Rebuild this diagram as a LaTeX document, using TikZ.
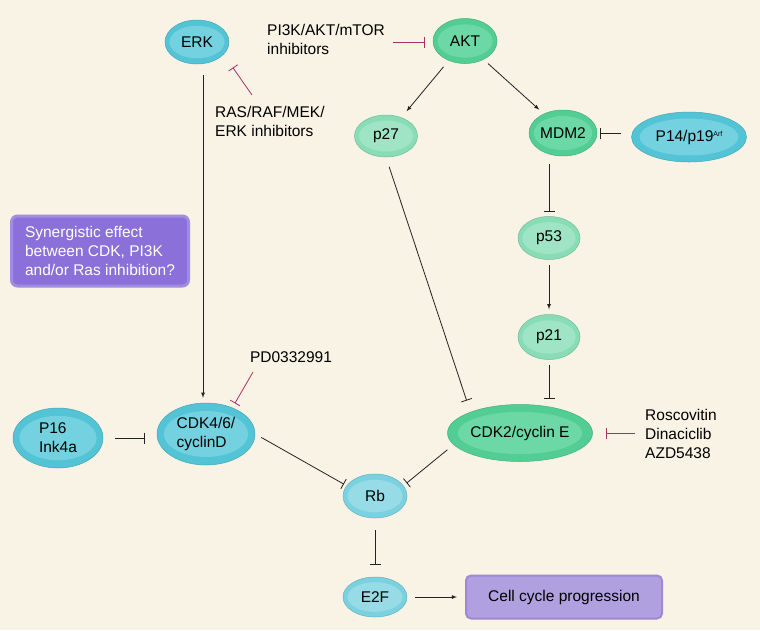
\documentclass[tikz,border=0pt]{standalone}
\usepackage{fontspec}
\setmainfont{Liberation Sans}
\usetikzlibrary{shapes.geometric,arrows.meta,calc}

\definecolor{bgcream}{HTML}{F8F3E4}
\definecolor{cyandark}{HTML}{52C4D5}
\definecolor{cyandarkin}{HTML}{74D1DF}
\definecolor{cyanlight}{HTML}{7AD1DF}
\definecolor{cyanlightin}{HTML}{96DBE6}
\definecolor{greendark}{HTML}{52CD93}
\definecolor{greendarkin}{HTML}{6CD8A5}
\definecolor{greenlight}{HTML}{88DCB6}
\definecolor{greenlightin}{HTML}{9FE4C5}
\definecolor{synpurple}{HTML}{8A70D8}
\definecolor{synedge}{HTML}{A08CE2}
\definecolor{cellpurple}{HTML}{B0A0E0}
\definecolor{celledge}{HTML}{9C8AD4}
\definecolor{drugred}{HTML}{A8306A}
\definecolor{linegray}{HTML}{222222}

\tikzset{
  bubble/.style 2 args={ellipse, inner sep=0pt, fill=#1, draw=#1!85!black,
    line width=0.5pt, align=center,
    path picture={\fill[#2] let \p1=($(path picture bounding box.north east)-(path picture bounding box.center)$)
      in (path picture bounding box.center) ellipse [x radius=0.86*\x1, y radius=0.74*\y1];}},
  link/.style={draw=linegray, line width=0.8pt},
  inh/.style={link, -{Bar[width=11pt]}},
  drug/.style={draw=drugred, line width=0.8pt, -{Bar[width=11pt]}},
  label/.style={inner sep=0pt, align=left}
}

\begin{document}
\begin{tikzpicture}[x=1pt, y=-1pt, font=\fontsize{15.5}{19}\selectfont, >=latex]

% background
\fill[bgcream] (0,0) rectangle (760,630);
\useasboundingbox (0,0) rectangle (760,630);

% top row
\node[bubble={cyandark}{cyandarkin}, minimum width=64, minimum height=44] (ERK) at (197,42) {ERK};
\node[bubble={greendark}{greendarkin}, minimum width=64, minimum height=45] (AKT) at (465,41) {AKT};
\node[label, anchor=west] (pi3k) at (267,39) {PI3K/AKT/mTOR\\inhibitors};
\node[label, anchor=west] (ras) at (215,121) {RAS/RAF/MEK/\\ERK inhibitors};

% AKT branch
\node[bubble={greenlight}{greenlightin}, minimum width=63, minimum height=42] (p27) at (386,136) {p27};
\node[bubble={greendark}{greendarkin}, minimum width=68, minimum height=46] (MDM2) at (563,133) {MDM2};
\node[bubble={cyandark}{cyandarkin}, minimum width=115, minimum height=50] (P14) at (689,137) {P14/p19\raisebox{5pt}{\fontsize{7}{7}\selectfont Arf}};
\node[bubble={greenlight}{greenlightin}, minimum width=62, minimum height=43] (p53) at (549,238) {p53};
\node[bubble={greenlight}{greenlightin}, minimum width=62, minimum height=45] (p21) at (549,337) {p21};
\node[bubble={greendark}{greendarkin}, minimum width=145, minimum height=57] (CDK2) at (520,433) {CDK2/cyclin E};
\node[label, anchor=west] (cdk2drugs) at (645,434) {Roscovitin\\Dinaciclib\\AZD5438};

% left side
\node[rectangle, rounded corners=6pt, fill=synpurple, draw=synedge, line width=3pt,
      minimum width=177, minimum height=70, text=white, align=left, inner sep=0pt] (syn) at (100,251)
      {Synergistic effect\\between CDK, PI3K\\and/or Ras inhibition?};
\node[bubble={cyandark}{cyandarkin}, minimum width=98, minimum height=62, align=left] (CDK46) at (206,434) {CDK4/6/\\cyclinD};
\node[bubble={cyandark}{cyandarkin}, minimum width=90, minimum height=60, align=left] (P16) at (58,438) {P16\\Ink4a};
\node[label] (pd) at (291,357) {PD0332991};

% bottom
\node[bubble={cyanlight}{cyanlightin}, minimum width=64, minimum height=44] (Rb) at (375,496) {Rb};
\node[bubble={cyanlight}{cyanlightin}, minimum width=64, minimum height=40] (E2F) at (375,597) {E2F};
\node[rectangle, rounded corners=5pt, fill=cellpurple, draw=celledge, line width=2pt,
      minimum width=196, minimum height=43, inner sep=0pt] (cell) at (564,597) {Cell cycle progression};

% free ends of the drug lines
\coordinate (pi3ktail) at (393,42);
\coordinate (rastail) at (252,95);
\coordinate (pdtail) at (253,372);
\coordinate (cdk2tail) at (635,433);

% drug lines
\draw[drug, shorten >=8pt] (pi3ktail) -- (pi3ktail -| AKT.west);
\draw[drug, shorten >=16pt] (rastail) -- (ERK.-25);
\draw[drug, shorten >=5pt] (pdtail) -- (CDK46.45);
\draw[drug, shorten >=13pt] (cdk2tail) -- (CDK2.east);

% activations
\draw[link, ->, shorten <=11pt, shorten >=5pt] ([xshift=6pt]ERK.south) -- ([xshift=-3pt]CDK46.north);
\draw[link, ->, shorten <=8pt, shorten >=8pt] (AKT) -- (p27);
\draw[link, ->, shorten <=6pt, shorten >=6pt] (AKT.-45) -- (MDM2.135);
\draw[link, ->, shorten <=5pt, shorten >=5pt] (p53) -- (p21);
\draw[link, ->, shorten <=8pt, shorten >=8pt] (E2F) -- (cell);

% inhibitions
\draw[inh, shorten <=10pt, shorten >=3pt] (P14.west |- MDM2.east) -- (MDM2.east);
\draw[inh, shorten <=8pt, shorten >=4pt] (MDM2.south -| p53.north) -- (p53.north);
\draw[inh, shorten <=5pt, shorten >=5pt] (p21.south) -- (p21.south |- CDK2.north);
\draw[inh, shorten <=10pt, shorten >=12pt] (p27.south) -- (CDK2.157);
\draw[inh, shorten <=8pt, shorten >=4pt] (CDK2.190) -- (Rb.20);
\draw[inh, shorten <=7pt, shorten >=3pt] (CDK46.east) -- (Rb.160);
\draw[inh, shorten <=12pt, shorten >=12pt] (Rb) -- (E2F);
\draw[inh, shorten <=12pt, shorten >=12pt] (P16.east) -- (P16.east -| CDK46.west);

\end{tikzpicture}
\end{document}
